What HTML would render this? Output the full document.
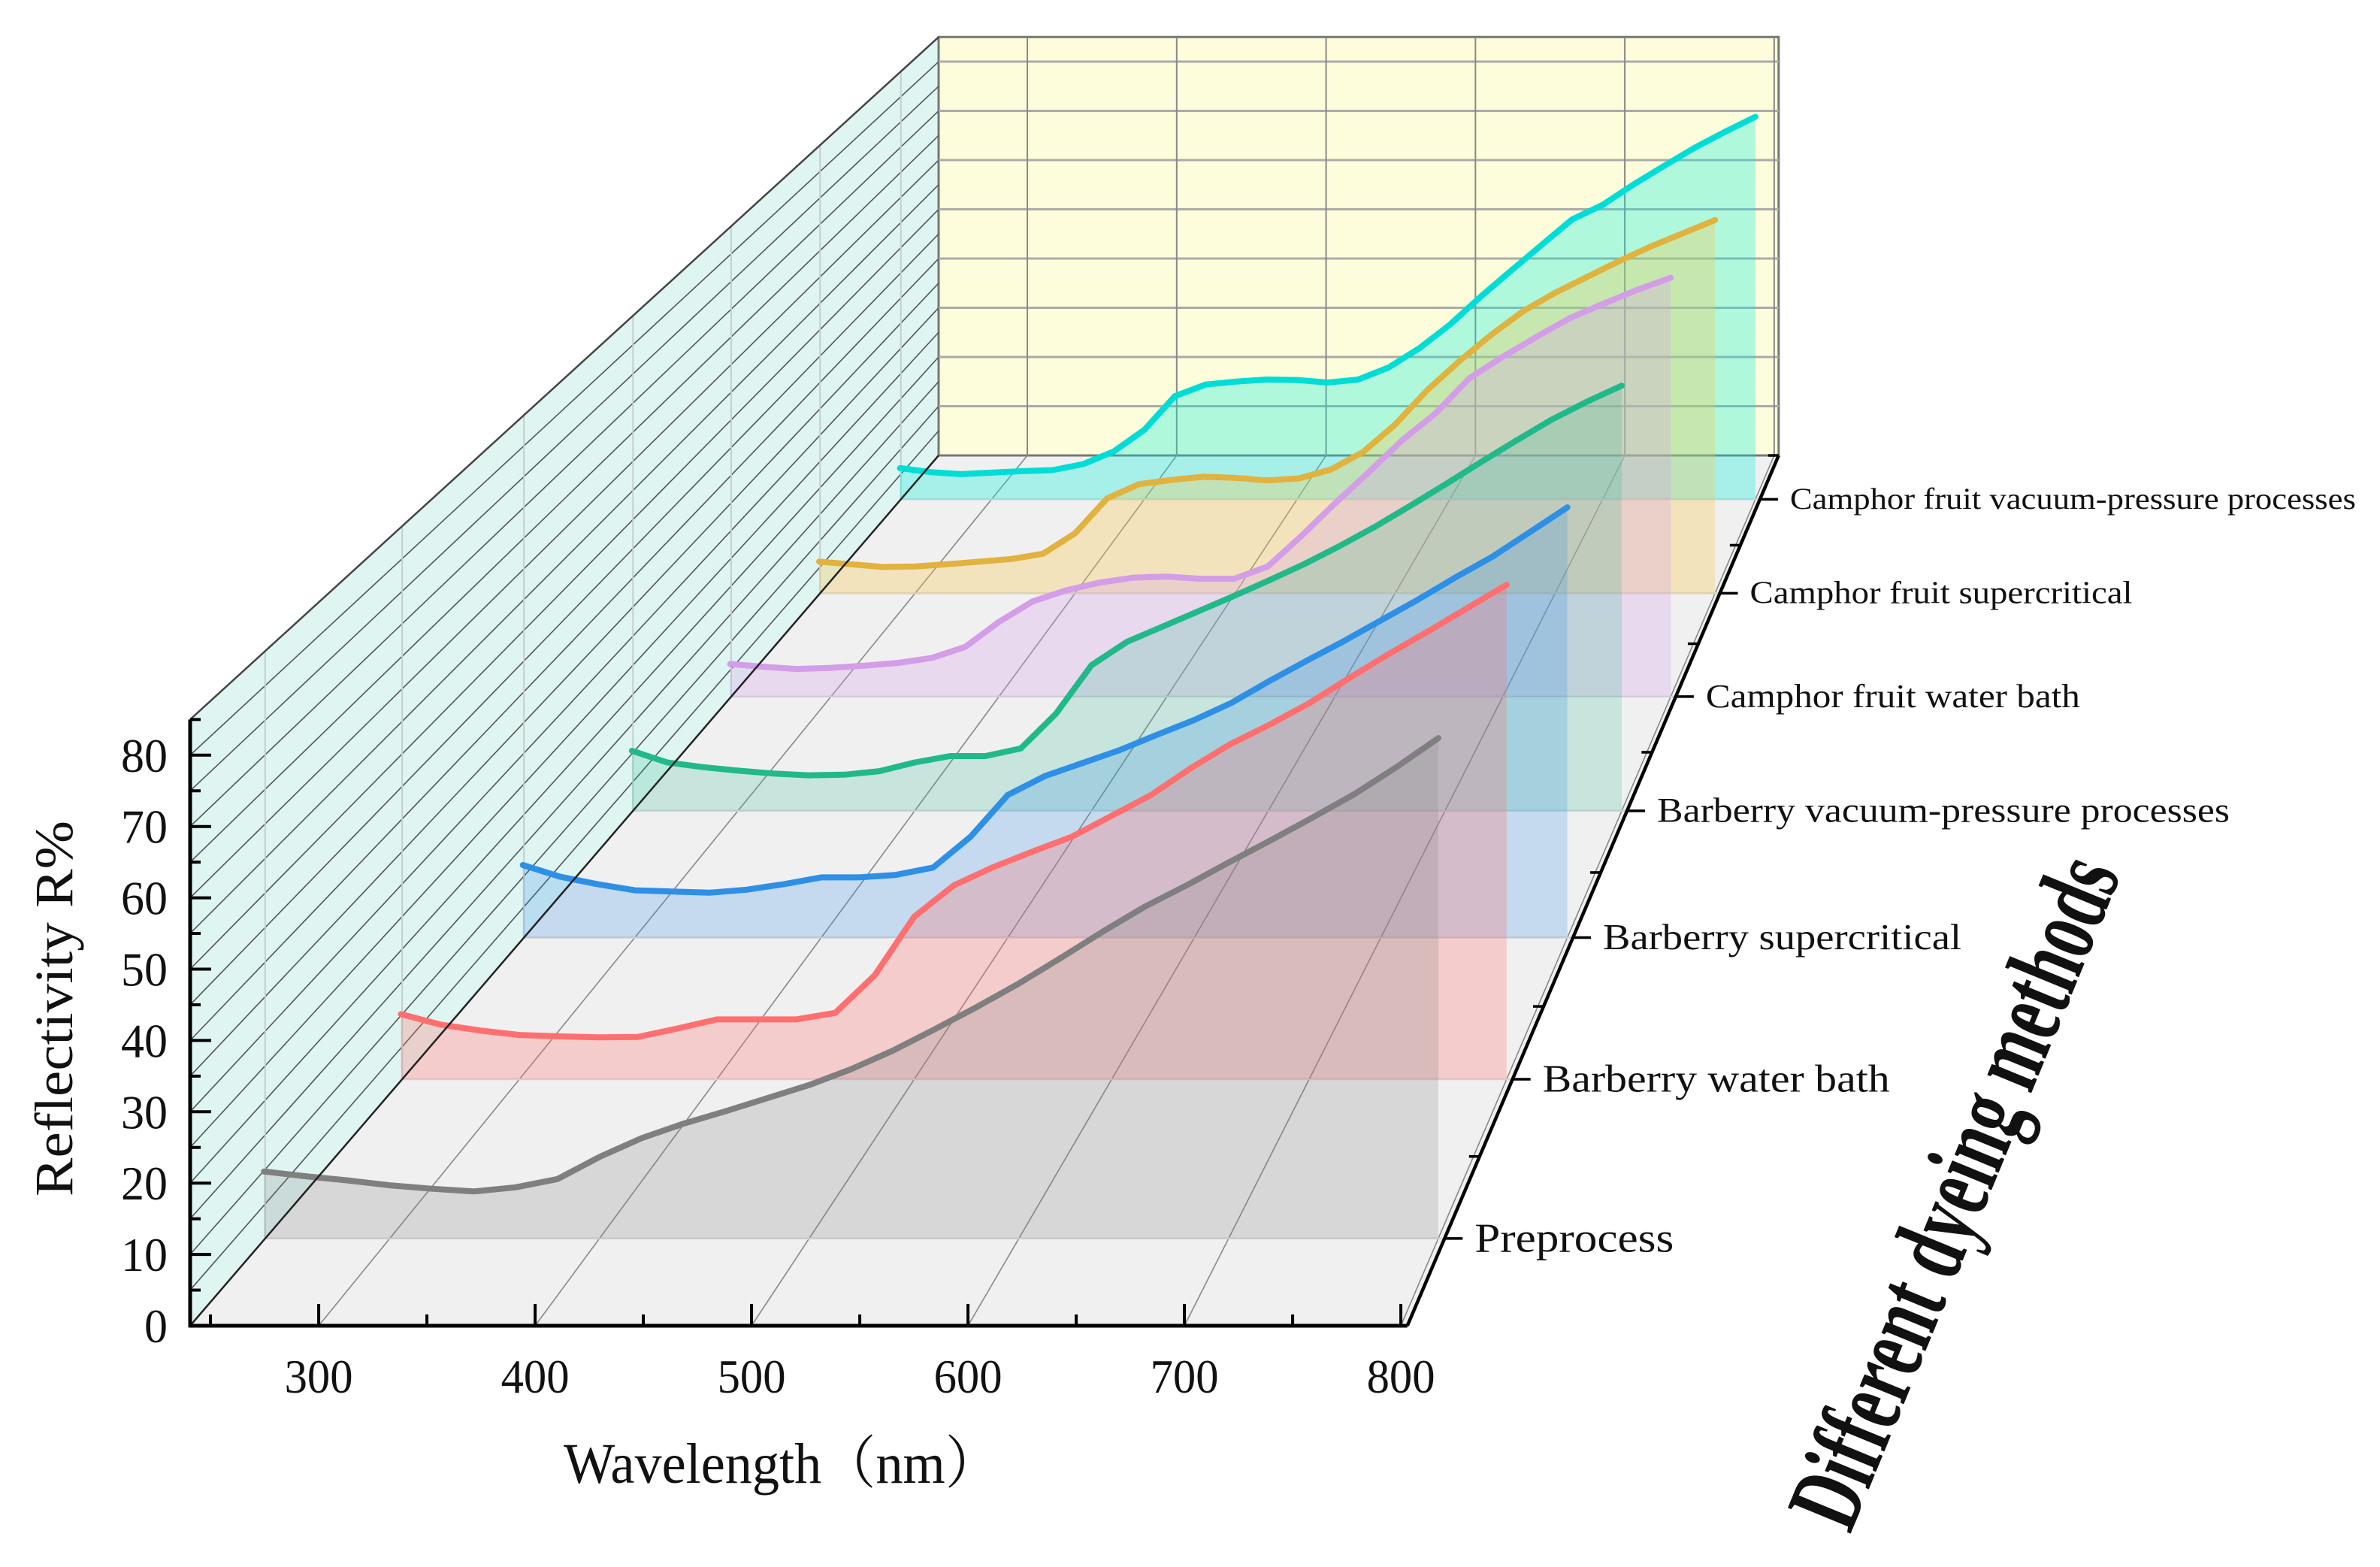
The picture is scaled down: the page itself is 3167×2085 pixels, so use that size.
<!DOCTYPE html>
<html><head><meta charset="utf-8"><style>
html,body{margin:0;padding:0;background:#fff;}
svg{display:block;}
text{font-family:"Liberation Serif","Noto Serif CJK SC",serif;fill:#111;}
</style></head><body>
<svg id="chart" width="3167" height="2085" viewBox="0 0 3167 2085" xmlns="http://www.w3.org/2000/svg">
<g id="planes"></g><g id="grid"></g><g id="series"></g><g id="axes"></g><g id="labels"></g>
</svg>
<script>
const wavelengths=[240,260,280,300,320,340,360,380,400,420,440,460,480,500,520,540,560,580,600,620,640,660,680,700,720,740,760,780,800];
const categories=["Preprocess","Barberry water bath","Barberry supercritical","Barberry vacuum-pressure processes","Camphor fruit water bath","Camphor fruit supercritical","Camphor fruit vacuum-pressure processes"];
const preprocess=[9.7,9.0,8.4,7.7,7.2,6.8,7.4,8.6,11.8,14.5,16.6,18.4,20.3,22.2,24.5,27.2,30.3,33.5,36.9,40.6,44.4,48,51.1,54.4,57.6,60.9,64.3,68.2,72.4];
const barberryWater=[10,8.4,7.5,6.8,6.6,6.45,6.5,7.8,9.2,9.2,9.2,10.2,16,25,29.8,32.6,35,37.3,40.5,43.7,47.8,51.5,54.5,57.8,61.6,65.3,68.8,72.4,76];
const barberrySuper=[11.8,9.9,8.7,7.7,7.5,7.3,7.8,8.7,9.8,9.8,10.2,11.4,16.4,23.2,26.3,28.4,30.5,33,35.4,38.2,41.7,45,48.2,51.6,55,58.6,62,66,70];
const barberryVacuum=[10.3,8.3,7.5,6.9,6.4,6.1,6.2,6.8,8.3,9.4,9.4,10.7,16.7,25,29,31.6,34.2,36.8,39.5,42.3,45.4,48.7,52.3,56,59.8,63.5,67.1,70.2,73];
const camphorWater=[5.9,5.4,5,5.2,5.6,6.1,7,9,13.5,17.2,19.2,20.6,21.5,21.7,21.3,21.3,23.5,29,34.9,40.5,46.3,51.2,57.5,61.4,65,68.4,71,73.5,75.7];
const camphorSuper=[6,5.5,5,5.1,5.5,6,6.5,7.5,11.4,18,20.7,21.5,22.1,21.9,21.4,21.8,23.5,26.8,32,38.5,44,49,53.5,57,60,63,65.8,68.3,70.8];
const camphorVacuum=[6.2,5.4,5,5.3,5.6,5.8,7,9.5,13.8,20.5,22.8,23.4,23.8,23.7,23.2,23.8,26.2,30,34.7,40.2,45.4,50.5,55.6,58.5,62.5,66.2,69.8,73,76];
const yTicks=[0,10,20,30,40,50,60,70,80];
const xTicks=[300,400,500,600,700,800];

const seriesList=[preprocess,barberryWater,barberrySuper,barberryVacuum,camphorWater,camphorSuper,camphorVacuum];
const lineColors=["#7f7f7f","#ff6f6f","#2e8fe6","#22b98a","#d49de8","#e1b23e","#00dcd6"];
const fillColors=["rgba(128,128,128,0.22)","rgba(255,110,110,0.28)","rgba(46,143,230,0.22)","rgba(34,185,138,0.2)","rgba(212,157,232,0.28)","rgba(245,200,80,0.32)","rgba(0,240,220,0.3)"];
const seriesNames=["preprocess","barberry-water-bath","barberry-supercritical","barberry-vacuum","camphor-water-bath","camphor-supercritical","camphor-vacuum"];

const WMIN=240.6,WMAX=803,VMAX=85,K=0.449,S1=1/(1+K);
const FX=253,FY=1764,DX=996,DY=-1158,PXNM=2.88,PXV=9.49;
function P(w,v,d){const s=1/(1+K*d);const t=(1-s)/(1-S1);
 return [FX+t*DX+(w-WMIN)*PXNM*s, FY+t*DY-v*PXV*s];}
const NS="http://www.w3.org/2000/svg";
function mk(tag,parent,attrs){const e=document.createElementNS(NS,tag);for(const k in attrs)e.setAttribute(k,attrs[k]);document.getElementById(parent).appendChild(e);return e;}
function pts(a){return a.map(p=>p[0].toFixed(1)+","+p[1].toFixed(1)).join(" ");}
const nC=categories.length;
function dOf(i){return (i+0.5)/nC;}

let e;
e=mk("polygon","planes",{points:pts([P(WMIN,0,0),P(WMIN,VMAX,0),P(WMIN,VMAX,1),P(WMIN,0,1)]),fill:"#dff5f2",stroke:"none"});

e=mk("polygon","planes",{points:pts([P(WMIN,0,0),P(WMAX,0,0),P(WMAX,0,1),P(WMIN,0,1)]),fill:"#f0f0f0",stroke:"none"});

e=mk("polygon","planes",{points:pts([P(WMIN,0,1),P(WMAX,0,1),P(WMAX,VMAX,1),P(WMIN,VMAX,1)]),fill:"#fdfddc",stroke:"#777","stroke-width":3});


for(let v=5;v<=VMAX;v+=5){const a=P(WMIN,v,0),b=P(WMIN,v,1);
 e=mk("line","grid",{x1:a[0],y1:a[1],x2:b[0],y2:b[1],stroke:"#555","stroke-width":1.6});
 }
for(let v=10;v<VMAX;v+=10){const a=P(WMIN,v,1),b=P(WMAX,v,1);
 e=mk("line","grid",{x1:a[0],y1:a[1],x2:b[0],y2:b[1],stroke:"#aaa","stroke-width":3});
 }
xTicks.forEach(w=>{if(w>=WMAX)return;const a=P(w,0,0),b=P(w,0,1),c=P(w,VMAX,1);
 e=mk("line","grid",{x1:a[0],y1:a[1],x2:b[0],y2:b[1],stroke:"#888","stroke-width":1.6});
 
 e=mk("line","grid",{x1:b[0],y1:b[1],x2:c[0],y2:c[1],stroke:"#888","stroke-width":2});
 });
for(let i=0;i<nC;i++){const d=dOf(i);const a=P(WMIN,0,d),b=P(WMAX,0,d),c=P(WMIN,VMAX,d);
 e=mk("line","grid",{x1:a[0],y1:a[1],x2:b[0],y2:b[1],stroke:"#d4d4d4","stroke-width":2.5});
 
 e=mk("line","grid",{x1:a[0],y1:a[1],x2:c[0],y2:c[1],stroke:"#c4cfcd","stroke-width":2});
 }

for(let i=nC-1;i>=0;i--){const d=dOf(i);const vals=seriesList[i];
 const line=wavelengths.map((w,j)=>P(w,vals[j],d));
 const poly=line.concat([P(wavelengths[wavelengths.length-1],0,d),P(wavelengths[0],0,d)]);
 e=mk("polygon","series",{points:pts(poly),fill:fillColors[i],stroke:"none"});
 
 e=mk("polyline","series",{points:pts(line),fill:"none",stroke:lineColors[i],"stroke-width":8,"stroke-linejoin":"round","stroke-linecap":"round"});
 }

let a=P(WMIN,VMAX,0),b=P(WMIN,VMAX,1);
e=mk("line","axes",{x1:a[0],y1:a[1],x2:b[0],y2:b[1],stroke:"#444","stroke-width":2.5});

a=P(WMIN,0,0);b=P(WMIN,0,1);
e=mk("line","axes",{x1:a[0],y1:a[1],x2:b[0],y2:b[1],stroke:"#222","stroke-width":2.5});

a=P(WMIN,0,0);b=P(WMIN,VMAX,0);
e=mk("line","axes",{x1:a[0],y1:a[1]+2,x2:b[0],y2:b[1],stroke:"#000","stroke-width":5});

a=P(WMIN,0,0);b=P(WMAX,0,0);
e=mk("line","axes",{x1:a[0]-2,y1:a[1],x2:b[0],y2:b[1],stroke:"#000","stroke-width":5});

a=P(WMAX,0,0);b=P(WMAX,0,1);
e=mk("line","axes",{x1:a[0],y1:a[1],x2:b[0],y2:b[1],stroke:"#000","stroke-width":4.5});


for(let v=0;v<=VMAX;v+=5){const p=P(WMIN,v,0);const major=v%10===0;
 e=mk("line","axes",{x1:p[0],y1:p[1],x2:p[0]+(major?28:14),y2:p[1],stroke:"#000","stroke-width":4});
 }
yTicks.forEach(v=>{const p=P(WMIN,v,0);const str=String(v);
 e=mk("text","labels",{x:p[0]-30,y:p[1]+22,"font-size":64,"text-anchor":"end",textLength:31*str.length,lengthAdjust:"spacingAndGlyphs"});
 e.textContent=str;
 });
for(let w=250;w<=800;w+=50){const p=P(w,0,0);const major=w%100===0;
 e=mk("line","axes",{x1:p[0],y1:p[1],x2:p[0],y2:p[1]-(major?29:15),stroke:"#000","stroke-width":4});
 }
xTicks.forEach(w=>{const p=P(w,0,0);
 e=mk("text","labels",{x:p[0],y:1853,"font-size":64,"text-anchor":"middle",textLength:91,lengthAdjust:"spacingAndGlyphs"});
 e.textContent=String(w);
 });
for(let i=0;i<=nC;i++){const p=P(WMAX,0,i/nC);
 e=mk("line","axes",{x1:p[0],y1:p[1],x2:p[0]-14,y2:p[1],stroke:"#000","stroke-width":3.5});
 }
const labelLen=[265,462,477,762,498,509,753];
for(let i=0;i<nC;i++){const d=dOf(i);const s=1/(1+K*d);const p=P(WMAX,0,d);
 e=mk("line","axes",{x1:p[0],y1:p[1],x2:p[0]+24,y2:p[1],stroke:"#000","stroke-width":3.5});
 
 e=mk("text","labels",{x:p[0]+40,y:p[1]+18*s,"font-size":(57*s).toFixed(1),textLength:labelLen[i],lengthAdjust:"spacingAndGlyphs"});
 e.textContent=categories[i];
 }
</script>
<script>
(function(){const NS="http://www.w3.org/2000/svg";const g=document.getElementById("labels");
let t=document.createElementNS(NS,"text");
t.setAttribute("x","0");t.setAttribute("y","0");t.setAttribute("font-size","72");t.setAttribute("text-anchor","middle");
t.setAttribute("textLength","500");t.setAttribute("lengthAdjust","spacingAndGlyphs");
t.setAttribute("transform","translate(96,1342) rotate(-90)");
t.textContent="Reflectivity R%";


g.appendChild(t);
t=document.createElementNS(NS,"text");
t.setAttribute("x","750");t.setAttribute("y","1973");t.setAttribute("font-size","76");
t.setAttribute("textLength","580");t.setAttribute("lengthAdjust","spacingAndGlyphs");
t.textContent="Wavelength（nm）";


g.appendChild(t);
t=document.createElementNS(NS,"text");
t.setAttribute("x","0");t.setAttribute("y","0");t.setAttribute("font-size","138");t.setAttribute("font-weight","bold");
t.setAttribute("textLength","950");t.setAttribute("lengthAdjust","spacingAndGlyphs");
t.setAttribute("transform","translate(2462,2042) rotate(-67.7)");
t.textContent="Different dyeing methods";


g.appendChild(t);})();
</script>
</body></html>
